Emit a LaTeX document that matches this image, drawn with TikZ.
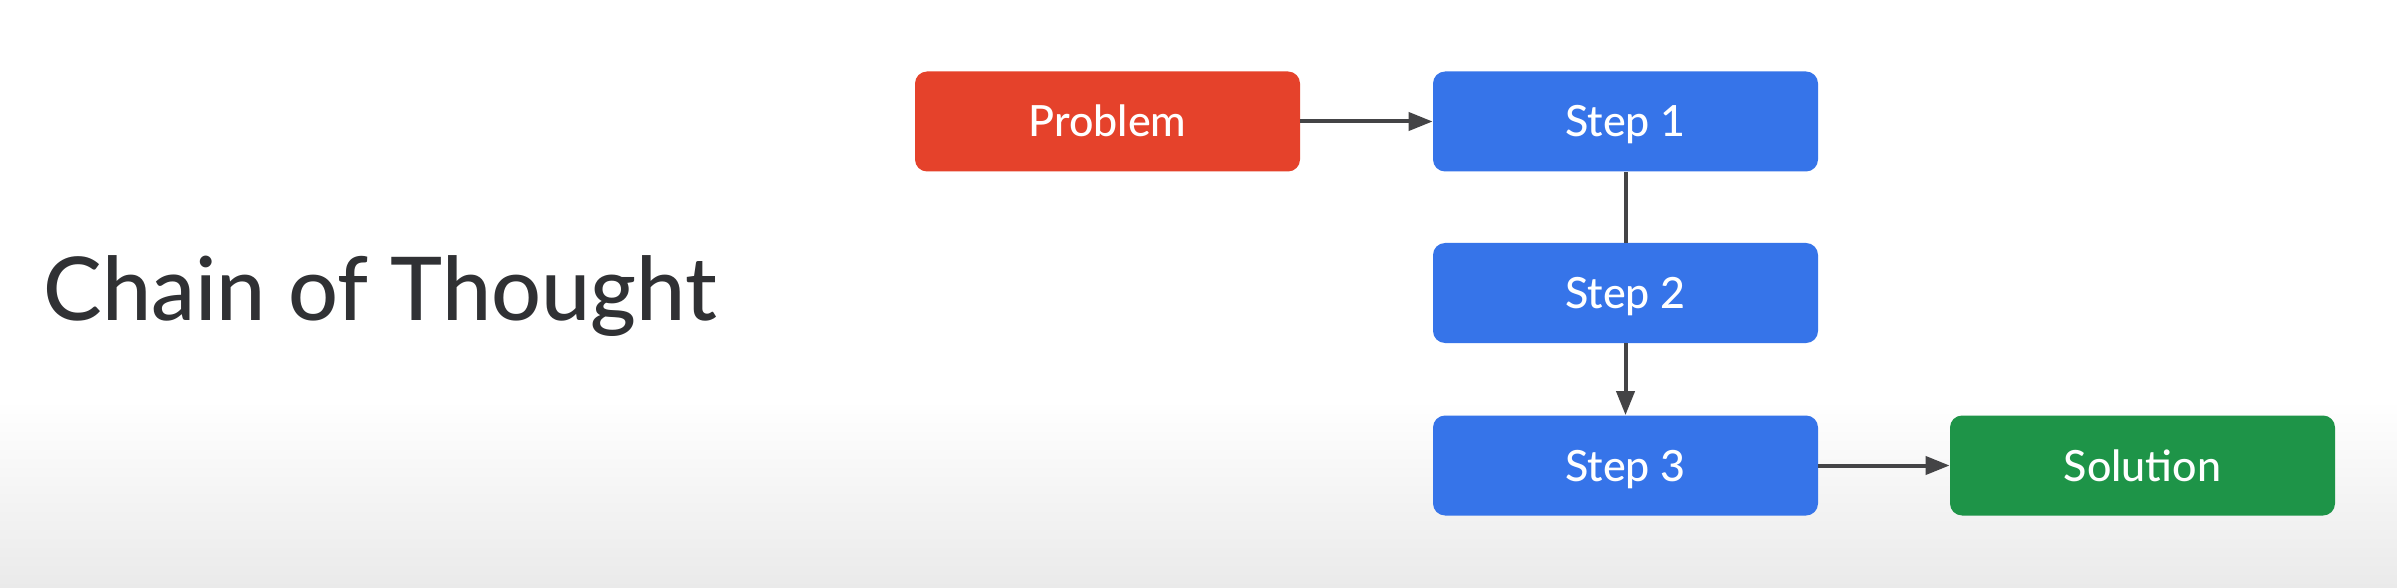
\documentclass[tikz,border=0pt]{standalone}
\usepackage{fontspec}
\setmainfont{Lato}[UprightFont=* Medium]
\usetikzlibrary{arrows.meta}
\definecolor{probred}{RGB}{229,66,43}
\definecolor{stepblue}{RGB}{54,116,233}
\definecolor{solgreen}{RGB}{30,148,72}
\definecolor{arrowgray}{RGB}{68,68,70}
\definecolor{titlegray}{RGB}{48,49,52}
\definecolor{bggray}{RGB}{234,234,234}
\tikzset{
  box/.style={rectangle, rounded corners=6pt, minimum width=192.5pt, minimum height=50pt,
    inner sep=0pt, text=white, font=\fontsize{21.5}{24}\selectfont, text height=15.5pt, text depth=0pt},
  conn/.style={draw=arrowgray, line width=2pt},
  arr/.style={conn, -{Triangle[length=12pt,width=9pt]}}
}
\begin{document}
\begin{tikzpicture}[x=0.5pt,y=-0.5pt]
  \useasboundingbox (0,0) rectangle (2397,588);
  \fill[white] (0,0) rectangle (2397,588);
  \shade[top color=white, bottom color=bggray] (0,400) rectangle (2397,588);
  \node[anchor=base west, text=titlegray, font=\fontsize{44}{50}\selectfont, inner sep=0pt] (title) at (43,321) {Chain of Thought};
  \node[box, fill=probred] (problem) at (1107.5,121.5) {Problem};
  \node[box, fill=stepblue] (step1) at (1625.5,121.5) {Step 1};
  \node[box, fill=stepblue] (step2) at (1625.5,293) {Step 2};
  \node[box, fill=stepblue] (step3) at (1625.5,465.5) {Step 3};
  \node[box, fill=solgreen] (solution) at (2142.5,465.5) {Solution};
  \draw[arr] (problem) -- (step1);
  \draw[conn] (step1) -- (step2);
  \draw[arr] (step2) -- (step3);
  \draw[arr] (step3) -- (solution);
\end{tikzpicture}
\end{document}
